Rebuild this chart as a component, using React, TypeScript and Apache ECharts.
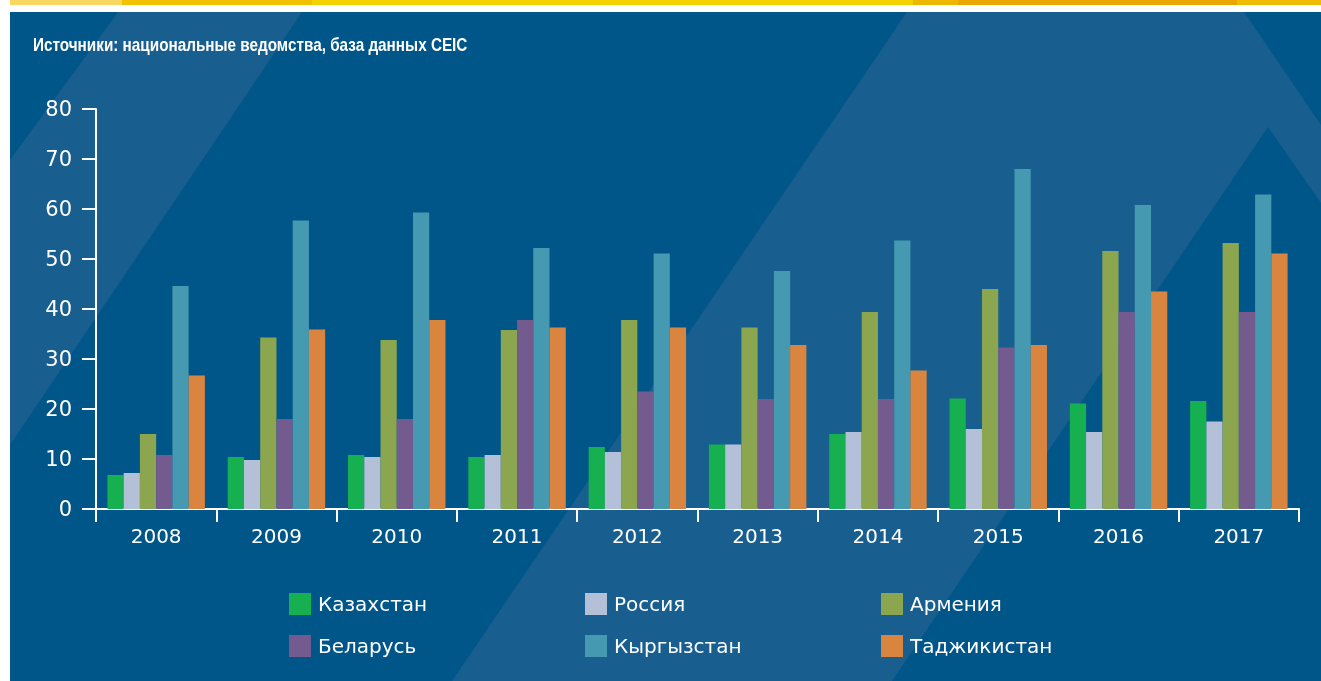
import React, { useEffect, useRef } from "react";
import * as echarts from "echarts";

const years = ["2008", "2009", "2010", "2011", "2012", "2013", "2014", "2015", "2016", "2017"];
const seriesNames = ["Казахстан", "Россия", "Армения", "Беларусь", "Кыргызстан", "Таджикистан"];
const seriesColors = ["#17b050", "#b3c0d8", "#8ba64f", "#735b8f", "#4599b0", "#d98540"];

const kazakhstan = [6.8, 10.4, 10.8, 10.4, 12.4, 12.9, 15.0, 22.1, 21.1, 21.6];
const russia = [7.2, 9.8, 10.4, 10.8, 11.4, 12.9, 15.4, 16.0, 15.4, 17.5];
const armenia = [15.0, 34.3, 33.8, 35.8, 37.8, 36.3, 39.4, 44.0, 51.6, 53.2];
const belarus = [10.8, 18.0, 18.0, 37.8, 23.5, 22.0, 22.0, 32.3, 39.4, 39.4];
const kyrgyzstan = [44.6, 57.7, 59.3, 52.2, 51.1, 47.6, 53.7, 68.0, 60.8, 62.9];
const tajikistan = [26.7, 35.9, 37.8, 36.3, 36.3, 32.8, 27.7, 32.8, 43.5, 51.1];
const seriesValues = [kazakhstan, russia, armenia, belarus, kyrgyzstan, tajikistan];

const yTicks = { min: 0, max: 80, interval: 10 };
const titleText = "Источники: национальные ведомства, база данных CEIC";

const DARK_BLUE = "#005689";
const LIGHT_BLUE = "#185e8f";

export default function App() {
  const ref = useRef<HTMLDivElement>(null);

  useEffect(() => {
    if (!ref.current) return;
    const chart = echarts.init(ref.current, undefined, { renderer: "svg" });

    const bg: any[] = [
      { type: "rect", shape: { x: 0, y: 0, width: 1321, height: 681 }, style: { fill: "#ffffff" }, z: -10, silent: true },
      { type: "rect", shape: { x: 10, y: 0, width: 112, height: 5 }, style: { fill: "#f8d860" }, z: -9, silent: true },
      { type: "rect", shape: { x: 122, y: 0, width: 190, height: 5 }, style: { fill: "#f2c200" }, z: -9, silent: true },
      { type: "rect", shape: { x: 312, y: 0, width: 601, height: 5 }, style: { fill: "#f4d200" }, z: -9, silent: true },
      { type: "rect", shape: { x: 913, y: 0, width: 45, height: 5 }, style: { fill: "#efb800" }, z: -9, silent: true },
      { type: "rect", shape: { x: 958, y: 0, width: 279, height: 5 }, style: { fill: "#eca600" }, z: -9, silent: true },
      { type: "rect", shape: { x: 1237, y: 0, width: 84, height: 5 }, style: { fill: "#f0bb00" }, z: -9, silent: true },
      { type: "rect", shape: { x: 10, y: 12, width: 1311, height: 669 }, style: { fill: DARK_BLUE }, z: -9, silent: true },
      {
        type: "polygon",
        shape: { points: [[118, 12], [302, 12], [10, 445], [10, 160]] },
        style: { fill: LIGHT_BLUE },
        z: -8,
        silent: true,
      },
      {
        type: "polygon",
        shape: {
          points: [[907, 12], [1244, 12], [1321, 125], [1321, 203], [1268, 127], [892, 681], [452, 681]],
        },
        style: { fill: LIGHT_BLUE },
        z: -8,
        silent: true,
      },
      {
        type: "text",
        x: 33,
        y: 45,
        scaleX: 0.85,
        z: 5,
        silent: true,
        style: {
          text: titleText,
          fill: "#ffffff",
          font: "bold 18px 'Liberation Sans', Arial, sans-serif",
          verticalAlign: "middle",
          align: "left",
        },
      },
    ];

    const legendPos = [
      [289, 593],
      [585, 593],
      [881, 593],
      [289, 635],
      [585, 635],
      [881, 635],
    ];

    const legends = seriesNames.map((name, i) => ({
      data: [name],
      left: legendPos[i][0],
      top: legendPos[i][1],
      padding: 0,
      itemWidth: 22,
      itemHeight: 22,
      itemGap: 0,
      icon: "rect",
      selectedMode: false,
      textStyle: {
        color: "#ffffff",
        fontSize: 20,
        fontFamily: "DejaVu Sans, sans-serif",
        padding: [0, 0, 0, 2],
      },
    }));

    const option: any = {
      animation: false,
      backgroundColor: "transparent",
      graphic: bg,
      legend: legends,
      grid: { left: 96, right: 22, top: 109, bottom: 172, containLabel: false },
      xAxis: {
        type: "category",
        data: years,
        boundaryGap: true,
        axisLine: { show: true, lineStyle: { color: "#ffffff", width: 2 } },
        axisTick: { show: true, length: 13, lineStyle: { color: "#ffffff", width: 2 } },
        axisLabel: {
          color: "#ffffff",
          fontSize: 20,
          fontFamily: "DejaVu Sans, sans-serif",
          margin: 17,
        },
        splitLine: { show: false },
      },
      yAxis: {
        type: "value",
        min: yTicks.min,
        max: yTicks.max,
        interval: yTicks.interval,
        axisLine: { show: true, lineStyle: { color: "#ffffff", width: 2 } },
        axisTick: { show: true, length: 14, lineStyle: { color: "#ffffff", width: 2 } },
        axisLabel: {
          color: "#ffffff",
          fontSize: 21,
          fontFamily: "DejaVu Sans, sans-serif",
          margin: 24,
        },
        splitLine: { show: false },
      },
      series: seriesNames.map((name, i) => ({
        name,
        type: "bar",
        data: seriesValues[i],
        barGap: "0%",
        barCategoryGap: "19%",
        itemStyle: { color: seriesColors[i] },
      })),
    };

    chart.setOption(option);
    return () => chart.dispose();
  }, []);

  return (
    <div
      ref={ref}
      style={{ position: "fixed", left: 0, top: 0, width: 1321, height: 681 }}
    />
  );
}
